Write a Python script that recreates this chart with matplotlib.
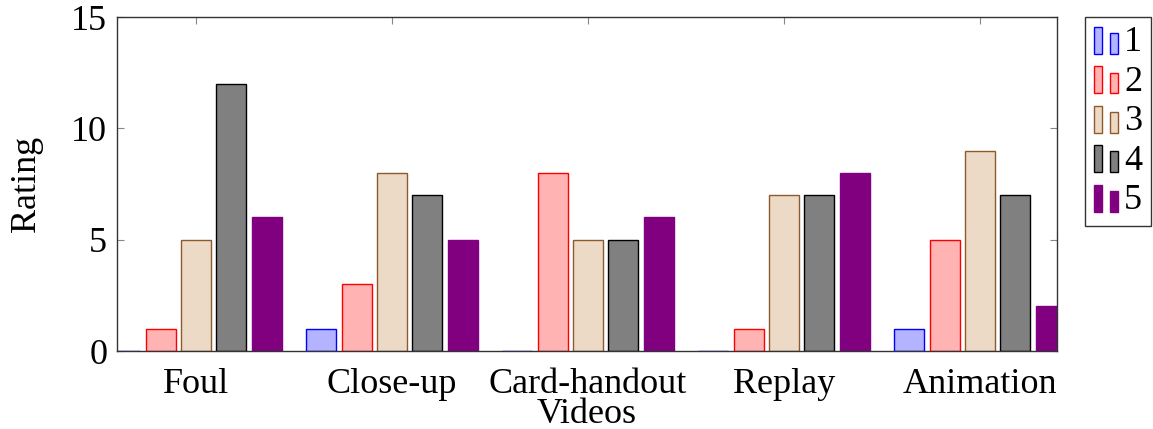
import matplotlib
matplotlib.use("Agg")
import matplotlib.pyplot as plt
import numpy as np
from matplotlib.patches import Rectangle
from matplotlib.legend_handler import HandlerBase

categories = ["Foul", "Close-up", "Card-handout", "Replay", "Animation"]
series_names = ["1", "2", "3", "4", "5"]
r1 = [0, 1, 0, 0, 1]
r2 = [1, 3, 8, 1, 5]
r3 = [5, 8, 5, 7, 9]
r4 = [12, 7, 5, 7, 7]
r5 = [6, 5, 6, 8, 2]
series = [r1, r2, r3, r4, r5]

fills = ["#b3b3ff", "#ffb3b3", "#ecd9c6", "#808080", "#800080"]
edges = ["#0000ff", "#ff0000", "#8c5a2b", "#000000", "#800080"]

plt.rcParams['font.family'] = ['Liberation Serif', 'DejaVu Serif']
FS = 26
plt.rcParams['font.size'] = FS

fig = plt.figure(figsize=(11.53, 4.29), dpi=100)
ax = fig.add_axes([117/1153, 1 - 351/429, (1057-117)/1153, (351-17)/429])

x = np.arange(len(categories))
width = 0.153
step = 0.18
for i, (vals, fc, ec) in enumerate(zip(series, fills, edges)):
    ax.bar(x + (i - 2) * step, vals, width, color=fc, edgecolor=ec,
           linewidth=1.0, label=series_names[i], zorder=2)

ax.set_xlim(-0.403, 4.393)
ax.set_ylim(0, 15)
ax.set_yticks([0, 5, 10, 15])
ax.set_xticks(x)
ax.set_xticklabels(categories)
ax.tick_params(axis='both', direction='in', length=5, color='#888888',
               top=True, right=True, labelsize=FS)
ax.tick_params(axis='x', pad=12)
ax.tick_params(axis='y', pad=7)
for s in ax.spines.values():
    s.set_linewidth(1.0)
    s.set_color('#333333')
ax.set_ylabel("Rating", fontsize=FS, labelpad=20)
ax.set_xlabel("Videos", fontsize=FS, labelpad=-2)


class TwoBarHandler(HandlerBase):
    def create_artists(self, legend, orig_handle, xdescent, ydescent,
                       width, height, fontsize, trans):
        fc = orig_handle.get_facecolor()
        ec = orig_handle.get_edgecolor()
        h = 19.5
        w = 5.8
        y0 = -ydescent - 2
        r1_ = Rectangle((-xdescent, y0), w, h,
                        facecolor=fc, edgecolor=ec, lw=1.0, transform=trans)
        r2_ = Rectangle((-xdescent + 11.5, y0), w, h * 0.77,
                        facecolor=fc, edgecolor=ec, lw=1.0, transform=trans)
        return [r1_, r2_]


handles, labels = ax.get_legend_handles_labels()
patches = [h.patches[0] for h in handles]
leg = ax.legend(patches, labels, handler_map={Rectangle: TwoBarHandler()},
                loc='upper left', bbox_to_anchor=(1.03, 1.0), borderaxespad=0,
                frameon=True, fancybox=False, edgecolor='black', fontsize=FS,
                handlelength=0.67, handletextpad=0.16, labelspacing=0.17,
                borderpad=0.25)
leg.get_frame().set_linewidth(1.0)

fig.savefig("out.png", dpi=100)
